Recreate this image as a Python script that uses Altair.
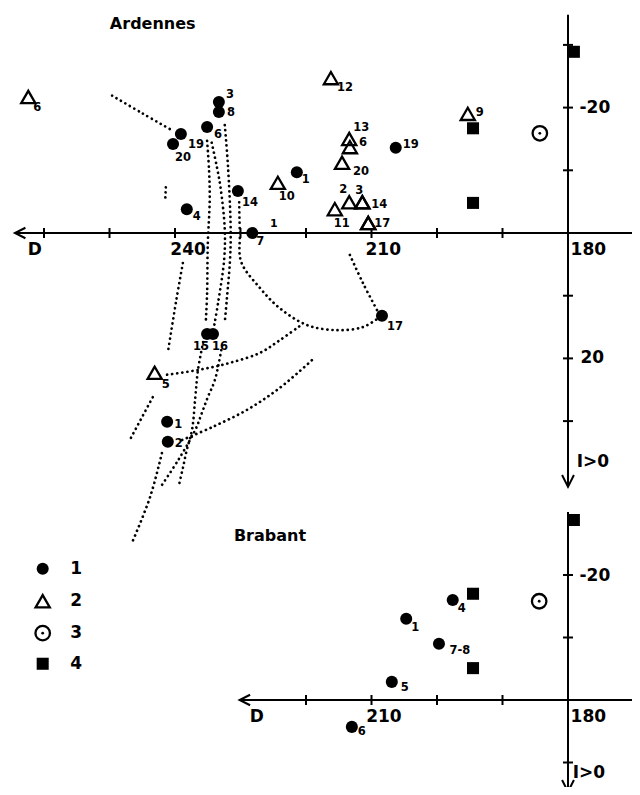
import altair as alt
import pandas as pd

# ---------------- layout constants (scales) ----------------
W, H = 624, 779
KX = (560 - 167) / 60.0            # px per degree of declination D
X_DOMAIN = [240 - (W - 167) / KX, 240 + 167 / KX]
KY_TOP, Y0_TOP = 6.27, 225         # Ardennes panel: I = 0 row
KY_BOT, Y0_BOT = 6.25, 692         # Brabant panel: I = 0 row
TOP_DOMAIN = [-Y0_TOP / KY_TOP, (H - Y0_TOP) / KY_TOP]
BOT_DOMAIN = [-Y0_BOT / KY_BOT, (H - Y0_BOT) / KY_BOT]

# ---------------- data: Ardennes ----------------
ard_type = ["1"] * 15 + ["2"] * 14 + ["3"] + ["4"] * 3
ard_D = [233.3, 233.3, 235.1, 239.1, 240.3, 230.4, 238.2, 221.4, 228.2, 206.3, 208.4, 235.1, 234.2, 241.2, 241.1,
         262.4, 224.3, 216.2, 213.4, 213.3, 214.5, 215.6, 213.4, 211.4, 211.4, 210.5, 195.3, 243.1, 210.5,
         184.3,
         194.5, 194.5, 179.1]
ard_I = [-20.9, -19.3, -16.9, -15.8, -14.2, -6.7, -3.8, -9.7, 0.0, -13.6, 13.2, 16.1, 16.1, 30.1, 33.3,
         -21.7, -8.0, -24.7, -15.0, -13.7, -11.2, -3.8, -4.9, -4.9, -4.9, -1.6, -19.0, 22.3, -1.6,
         -15.9,
         -16.7, -4.8, -28.9]
ard_label = ["3", "8", "6", "19", "20", "14", "4", "1", "7", "19", "17", "15", "16", "1", "2",
             "6", "10", "12", "13", "6", "20", "11", "2", "3", "14", "17", "9", "5", "",
             "",
             "", "", ""]
# label offsets from the symbol (pixels)
ard_label_dx = [11, 12, 11, 15, 10, 12, 10, 9, 8, 15, 13, -6, 7, 11, 11,
                9, 9, 14, 12, 13, 19, 7, -6, -3, 17, 14, 12, 11, 0,
                0, 0, 0, 0]
ard_label_dy = [-7, 1, 8, 11, 14, 12, 8, 8, 9, -3, 11, 13, 13, 3, 2,
                11, 14, 10, -11, -4, 9, 15, -12, -11, 3, 1, -1, 12, 0,
                0, 0, 0, 0]
ard_extra_label = ["1"]
ard_extra_D = [224.9]
ard_extra_I = [-1.4]

# dotted great-circle traces (D, I)
trace_01 = [(249.6, -21.9), (245.0, -19.1), (240.5, -16.4)]
trace_02 = [(241.4, -7.3), (241.5, -4.9)]
trace_03 = [(235.1, -14.7), (234.8, -10.0), (234.7, -5.3), (235.0, 1.9), (235.1, 9.6), (235.3, 14.2)]
trace_04 = [(234.4, -14.4), (233.6, -10.5), (233.0, -6.9), (232.4, -0.5), (232.5, 4.3), (233.4, 11.0), (234.0, 14.7)]
trace_05 = [(232.4, -17.2), (231.9, -10.5), (231.5, -0.5), (231.6, 4.3), (232.1, 10.7), (232.4, 14.2)]
trace_06 = [(230.2, -4.9), (230.1, 0.0), (229.9, 4.6), (227.0, 8.8), (224.0, 12.0), (219.8, 14.7),
            (215.3, 15.5), (211.3, 15.0), (209.0, 13.6)]
trace_07 = [(213.3, 3.5), (211.3, 8.0), (209.0, 12.6)]
trace_08 = [(241.2, 22.6), (236.2, 21.8), (231.6, 20.7), (227.0, 19.1), (224.0, 17.1), (220.9, 14.8)]
trace_09 = [(238.9, 33.0), (234.2, 30.9), (229.0, 28.2), (224.0, 24.7), (218.9, 20.1)]
trace_10 = [(242.0, 35.1), (243.8, 42.1), (246.4, 49.0)]
trace_11 = [(235.7, 17.4), (236.5, 21.9), (236.9, 26.2), (237.4, 31.4), (238.2, 34.6), (238.8, 37.5), (239.4, 40.2)]
trace_12 = [(232.8, 17.9), (233.9, 23.4), (235.0, 26.2), (235.9, 28.7), (236.9, 31.4), (239.5, 36.2), (242.0, 40.2)]
trace_13 = [(238.8, 4.8), (239.8, 10.7), (241.1, 19.1)]
trace_14 = [(243.4, 26.2), (247.0, 33.2)]
traces = [trace_01, trace_02, trace_03, trace_04, trace_05, trace_06, trace_07,
          trace_08, trace_09, trace_10, trace_11, trace_12, trace_13, trace_14]

# ---------------- data: Brabant ----------------
bra_type = ["1"] * 6 + ["3"] + ["4"] * 3
bra_D = [197.6, 204.7, 199.7, 206.9, 213.0, 168.8, 184.4, 194.5, 194.5, 179.1]
bra_I = [-16.0, -13.0, -9.0, -2.9, 4.3, -15.7, -15.8, -17.0, -5.1, -28.8]
bra_label = ["4", "1", "7-8", "5", "6", "", "", "", "", ""]
bra_label_dx = [9, 9, 21, 13, 10, 0, 0, 0, 0, 0]
bra_label_dy = [9, 9, 7, 6, 5, 0, 0, 0, 0, 0]

# legend (drawn in the Brabant frame)
leg_type = ["1", "2", "3", "4"]
leg_label = ["1", "2", "3", "4"]
leg_D = [260.2, 260.2, 260.2, 260.2]
leg_I = [-21.0, -15.8, -10.7, -5.8]
leg_text_D = 255.1

# axes
top_ticks_D = [260, 250, 240, 230, 220, 210, 200, 190]
top_ticks_I = [-30, -20, -10, 10, 20, 30]
bot_ticks_D = [220, 210, 200, 190]
bot_ticks_I = [-20, -10, 10]

top_axis_text = ["D", "240", "210", "180", "-20", "20", "I>0"]
top_axis_text_D = [261.4, 238.0, 208.2, 176.9, 175.9, 176.3, 176.2]
top_axis_text_I = [2.7, 2.7, 2.7, 2.7, -20.0, 20.0, 36.5]
bot_axis_text = ["D", "210", "180", "-20", "I>0"]
bot_axis_text_D = [227.5, 208.1, 176.9, 175.9, 176.8]
bot_axis_text_I = [2.7, 2.7, 2.7, -19.8, 11.7]

titles = ["Ardennes", "Brabant"]
title_D = [243.4, 225.5]
title_I = [-33.3, -26.3]

FONT = "DejaVu Sans"
xs = alt.Scale(domain=X_DOMAIN, reverse=True, nice=False, zero=False)


def ys(dom):
    return alt.Scale(domain=dom, reverse=True, nice=False, zero=False)


def XE(f="D"):
    return alt.X(f"{f}:Q", scale=xs, axis=None)


def YE(dom, f="I"):
    return alt.Y(f"{f}:Q", scale=ys(dom), axis=None)


def symbols(df, dom):
    base = alt.Chart(df).encode(x=XE(), y=YE(dom))
    out = []
    if (df.type == "1").any():
        out.append(base.transform_filter("datum.type == '1'").mark_circle(size=145, color="black", opacity=1))
    if (df.type == "2").any():
        out.append(base.transform_filter("datum.type == '2'").mark_point(
            shape="triangle-up", filled=False, size=200, strokeWidth=2.3, color="black", opacity=1))
    if (df.type == "3").any():
        out.append(base.transform_filter("datum.type == '3'").mark_point(
            shape="circle", filled=False, size=210, strokeWidth=2.3, color="black", opacity=1))
        out.append(base.transform_filter("datum.type == '3'").mark_circle(size=8, color="black", opacity=1))
    if (df.type == "4").any():
        out.append(base.transform_filter("datum.type == '4'").mark_square(size=145, color="black", opacity=1))
    return out


def labels(df, dom, ky, size=11.5):
    d = df[df.label != ""].copy()
    d["LD"] = d.D - d.dx / KX
    d["LI"] = d.I + d.dy / ky
    return alt.Chart(d).mark_text(font=FONT, fontWeight="bold", fontSize=size, color="black").encode(
        x=XE("LD"), y=YE(dom, "LI"), text="label:N")


def texts(txt, D, I, dom, size):
    d = pd.DataFrame({"t": txt, "D": D, "I": I})
    return alt.Chart(d).mark_text(font=FONT, fontWeight="bold", fontSize=size, color="black").encode(
        x=XE(), y=YE(dom), text="t:N")


def axes(dom, ky, d_left, i_top, i_bot, ticks_D, ticks_I):
    layers = []
    h = pd.DataFrame({"D": [d_left], "D2": [X_DOMAIN[0]], "I": [0.0]})
    layers.append(alt.Chart(h).mark_rule(color="black", strokeWidth=2).encode(
        x=XE(), x2="D2:Q", y=YE(dom)))
    v = pd.DataFrame({"D": [180.0], "I": [i_top], "I2": [i_bot]})
    layers.append(alt.Chart(v).mark_rule(color="black", strokeWidth=2).encode(
        x=XE(), y=YE(dom), y2="I2:Q"))
    # arrow heads
    la = pd.DataFrame({"D": [d_left - 5 / KX], "I": [0.0]})
    layers.append(alt.Chart(la).mark_point(shape="M1,-1L-1,0L1,1", filled=False, size=110,
                                           strokeWidth=2, color="black", opacity=1).encode(x=XE(), y=YE(dom)))
    da = pd.DataFrame({"D": [180.0], "I": [i_bot - 6 / ky]})
    layers.append(alt.Chart(da).mark_point(shape="M-1,-1L0,1L1,-1", filled=False, size=140,
                                           strokeWidth=2, color="black", opacity=1).encode(x=XE(), y=YE(dom)))
    tD = pd.DataFrame({"D": ticks_D, "I": [0.0] * len(ticks_D)})
    layers.append(alt.Chart(tD).mark_tick(orient="vertical", size=10, thickness=2, color="black", opacity=1).encode(
        x=XE(), y=YE(dom)))
    tI = pd.DataFrame({"D": [180.0] * len(ticks_I), "I": ticks_I})
    layers.append(alt.Chart(tI).mark_tick(orient="horizontal", size=10, thickness=2, color="black", opacity=1).encode(
        x=XE(), y=YE(dom)))
    return layers


# ---------------- build ----------------
top = pd.DataFrame({"type": ard_type, "D": ard_D, "I": ard_I, "label": ard_label,
                    "dx": ard_label_dx, "dy": ard_label_dy})
bot = pd.DataFrame({"type": bra_type, "D": bra_D, "I": bra_I, "label": bra_label,
                    "dx": bra_label_dx, "dy": bra_label_dy})
leg = pd.DataFrame({"type": leg_type, "D": leg_D, "I": leg_I, "label": leg_label})

rows = []
for k, tr in enumerate(traces):
    for j, (d, i) in enumerate(tr):
        rows.append({"line": k, "o": j, "D": d, "I": i})
trace_df = pd.DataFrame(rows)
dotted = alt.Chart(trace_df).mark_line(color="black", strokeWidth=2.7, strokeDash=[0.1, 5.0],
                                       strokeCap="round", interpolate="catmull-rom").encode(
    x=XE(), y=YE(TOP_DOMAIN), detail="line:N", order="o:Q")

layers = []
layers += axes(TOP_DOMAIN, KY_TOP, 264.4, -34.8, 40.5, top_ticks_D, top_ticks_I)
layers += axes(BOT_DOMAIN, KY_BOT, 230.1, -30.1, 14.7, bot_ticks_D, bot_ticks_I)
layers.append(dotted)
layers += symbols(top, TOP_DOMAIN)
layers += symbols(bot, BOT_DOMAIN)
layers += symbols(leg, BOT_DOMAIN)
layers.append(labels(top, TOP_DOMAIN, KY_TOP))
layers.append(labels(bot, BOT_DOMAIN, KY_BOT))
layers.append(texts(ard_extra_label, ard_extra_D, ard_extra_I, TOP_DOMAIN, 11))
layers.append(texts(top_axis_text, top_axis_text_D, top_axis_text_I, TOP_DOMAIN, 17))
layers.append(texts(bot_axis_text, bot_axis_text_D, bot_axis_text_I, BOT_DOMAIN, 17))
layers.append(texts(leg_label, [leg_text_D] * 4, leg_I, BOT_DOMAIN, 17))
layers.append(texts(titles[:1], title_D[:1], title_I[:1], TOP_DOMAIN, 16))
layers.append(texts(titles[1:], title_D[1:], title_I[1:], BOT_DOMAIN, 16))

chart = alt.layer(*layers).resolve_scale(y="independent").properties(
    width=W, height=H, padding=0, autosize="none", background="white"
).configure_view(stroke=None)

chart.save("out.html", embed_options={"renderer": "svg", "actions": False})
